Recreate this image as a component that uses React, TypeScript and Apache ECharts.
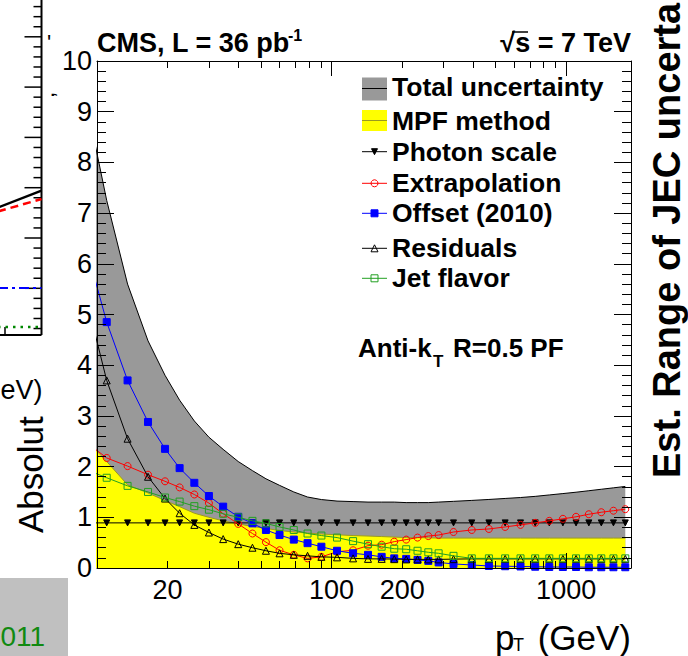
import React, { useEffect, useRef } from 'react';
import * as echarts from 'echarts';

// ---------------- data ----------------
const ptBins = [9, 11, 13.5, 16.5, 19.5, 22.5, 26, 30, 34.5, 40, 46, 52.5, 60, 69, 79, 90.5, 105.5, 123.5, 143, 163.5, 185, 208, 232.5, 258.5, 286, 331, 396, 468.5, 549.5, 639, 738, 847.5, 968.5, 1102, 1249.5, 1412, 1590.5, 1787];

const totalUncertainty = [9.2, 7.25, 5.6, 4.48, 3.8, 3.31, 2.9, 2.58, 2.34, 2.1, 1.92, 1.76, 1.63, 1.5, 1.4, 1.35, 1.32, 1.31, 1.3, 1.3, 1.3, 1.29, 1.29, 1.29, 1.3, 1.315, 1.333, 1.352, 1.372, 1.39, 1.413, 1.441, 1.468, 1.495, 1.524, 1.553, 1.581, 1.609];

const mpfMethod = [2.53, 2.1, 1.64, 1.48, 1.33, 1.21, 1.08, 1.0, 0.93, 0.87, 0.82, 0.78, 0.74, 0.71, 0.69, 0.67, 0.655, 0.64, 0.63, 0.62, 0.61, 0.6, 0.6, 0.595, 0.59, 0.59, 0.59, 0.59, 0.59, 0.59, 0.59, 0.59, 0.59, 0.59, 0.59, 0.59, 0.59, 0.59];

const photonScale = [0.89, 0.89, 0.89, 0.89, 0.89, 0.89, 0.89, 0.89, 0.89, 0.89, 0.89, 0.89, 0.89, 0.89, 0.89, 0.89, 0.89, 0.89, 0.89, 0.89, 0.89, 0.89, 0.89, 0.89, 0.89, 0.89, 0.89, 0.89, 0.89, 0.89, 0.89, 0.89, 0.89, 0.89, 0.89, 0.89, 0.89, 0.89];

const extrapolation = [2.48, 2.17, 2.01, 1.84, 1.71, 1.59, 1.45, 1.28, 1.07, 0.87, 0.68, 0.51, 0.35, 0.26, 0.19, 0.22, 0.32, 0.35, 0.44, 0.46, 0.52, 0.56, 0.6, 0.63, 0.65, 0.71, 0.75, 0.77, 0.81, 0.85, 0.89, 0.93, 0.97, 1.01, 1.06, 1.1, 1.13, 1.16];

const offset2010 = [6.32, 4.85, 3.7, 2.88, 2.35, 1.97, 1.68, 1.42, 1.21, 1.01, 0.88, 0.75, 0.65, 0.56, 0.49, 0.42, 0.34, 0.29, 0.26, 0.22, 0.19, 0.18, 0.16, 0.14, 0.11, 0.08, 0.06, 0.04, 0.035, 0.03, 0.025, 0.02, 0.02, 0.02, 0.015, 0.015, 0.015, 0.015];

const residuals = [5.31, 3.7, 2.55, 1.8, 1.37, 1.08, 0.85, 0.7, 0.57, 0.47, 0.4, 0.34, 0.29, 0.26, 0.24, 0.22, 0.21, 0.19, 0.18, 0.18, 0.175, 0.17, 0.17, 0.17, 0.17, 0.175, 0.18, 0.18, 0.18, 0.18, 0.18, 0.18, 0.18, 0.18, 0.18, 0.18, 0.18, 0.18];

const jetFlavor = [1.94, 1.78, 1.62, 1.5, 1.39, 1.31, 1.22, 1.15, 1.07, 1.0, 0.93, 0.88, 0.81, 0.75, 0.68, 0.64, 0.6, 0.53, 0.47, 0.42, 0.38, 0.37, 0.34, 0.31, 0.29, 0.24, 0.19, 0.19, 0.19, 0.19, 0.19, 0.19, 0.19, 0.19, 0.19, 0.19, 0.19, 0.19];

const xLabelValues = [20, 100, 200, 1000];
const xMajorTicks = [10, 100, 1000];
const xMinorTicks = [20, 30, 40, 50, 60, 70, 80, 90, 200, 300, 400, 500, 600, 700, 800, 900];
const X_MIN = 10;
const X_MAX = 1890;
const Y_MIN = 0;
const Y_MAX = 10;

const FONT = '"Liberation Sans", Arial, Helvetica, sans-serif';
const lg = (v: number) => Math.log10(v);
const toData = (vals: number[]) => ptBins.map((p, i) => [lg(p), vals[i]]);

type MarkerDef = {
  name: string;
  values: number[];
  color: string;
  symbol: 'circle' | 'rect' | 'triangle';
  rotate: number;
  size: number;
  filled: boolean;
};

const markerSeries: MarkerDef[] = [
  { name: 'Photon scale', values: photonScale, color: '#000000', symbol: 'triangle', rotate: 180, size: 6, filled: true },
  { name: 'Extrapolation', values: extrapolation, color: '#ff0000', symbol: 'circle', rotate: 0, size: 7, filled: false },
  { name: 'Offset (2010)', values: offset2010, color: '#0000ff', symbol: 'rect', rotate: 0, size: 7, filled: true },
  { name: 'Residuals', values: residuals, color: '#000000', symbol: 'triangle', rotate: 0, size: 7, filled: false },
  { name: 'Jet flavor', values: jetFlavor, color: '#22a022', symbol: 'rect', rotate: 0, size: 7, filled: false },
];

function markerGraphic(m: MarkerDef, cx: number, cy: number) {
  const s = m.size;
  const fill = m.filled ? m.color : 'none';
  const style = { fill, stroke: m.color, lineWidth: 1 };
  if (m.symbol === 'circle') return { type: 'circle', shape: { cx, cy, r: s / 2 }, style, z: 20 };
  if (m.symbol === 'rect') return { type: 'rect', shape: { x: cx - s / 2, y: cy - s / 2, width: s, height: s }, style, z: 20 };
  const h = s / 2;
  const pts = m.rotate === 180
    ? [[cx - h, cy - h], [cx + h, cy - h], [cx, cy + h]]
    : [[cx, cy - h], [cx + h, cy + h], [cx - h, cy + h]];
  return { type: 'polygon', shape: { points: pts }, style, z: 20 };
}

function buildGraphic() {
  const els: any[] = [];
  const txt = (text: string, x: number, y: number, size: number, opts: any = {}) => ({
    type: 'text', x, y, z: opts.z ?? 20, rotation: opts.rotation ?? 0,
    style: {
      text, fill: opts.fill ?? '#000', fontSize: size, fontFamily: FONT,
      fontWeight: opts.bold ? 'bold' : 'normal', align: opts.align ?? 'left', verticalAlign: 'middle',
      ...(opts.lineHeight ? { lineHeight: opts.lineHeight } : {}),
    },
  });

  // legend
  const LX = 362, LW = 25, TX = 392, LF = 26.5;
  els.push({ type: 'rect', shape: { x: LX, y: 77.5, width: LW, height: 23 }, style: { fill: '#999999' }, z: 20 });
  els.push({ type: 'line', shape: { x1: LX, y1: 88.5, x2: LX + LW, y2: 88.5 }, style: { stroke: '#000', lineWidth: 1 }, z: 21 });
  els.push(txt('Total uncertainty', TX, 86.7, LF, { bold: true }));
  els.push({ type: 'rect', shape: { x: LX, y: 110, width: LW, height: 21 }, style: { fill: '#ffff00' }, z: 20 });
  els.push({ type: 'line', shape: { x1: LX, y1: 120.5, x2: LX + LW, y2: 120.5 }, style: { stroke: '#9a9a20', lineWidth: 1 }, z: 21 });
  els.push(txt('MPF method', TX, 121, LF, { bold: true }));
  const rowsY = [151.7, 183.3, 213.3, 248.3, 278.3];
  markerSeries.forEach((m, i) => {
    const y = rowsY[i];
    els.push({ type: 'line', shape: { x1: LX, y1: y, x2: LX + LW, y2: y }, style: { stroke: m.color, lineWidth: 1 }, z: 20 });
    els.push(markerGraphic(m, LX + LW / 2, y));
    els.push(txt(m.name, TX, y, LF, { bold: true }));
  });

  // header texts
  els.push(txt('CMS, L = 36 pb', 97, 43.3, 27, { bold: true }));
  els.push(txt('-1', 288, 35.5, 16, { bold: true }));
  els.push(txt('\u221As = 7 TeV', 631, 43.3, 27, { bold: true, align: 'right' }));
  els.push({ type: 'line', shape: { x1: 512, y1: 32, x2: 528, y2: 32 }, style: { stroke: '#000', lineWidth: 1.5 }, z: 20 });

  // jet algorithm label
  els.push(txt('Anti-k', 358, 347.7, 26, { bold: true }));
  els.push(txt('T', 433, 361, 17, { bold: true }));
  els.push(txt('R=0.5 PF', 453, 347.7, 26, { bold: true }));

  // x axis title
  els.push(txt('p', 495, 637, 35));
  els.push(txt('T', 513, 645, 18));
  els.push(txt('(GeV)', 631, 637, 35, { align: 'right' }));

  // y axis title (partly hidden by neighbouring pad)
  els.push(txt('Absolut', 30.9, 533, 35, { rotation: Math.PI / 2, z: 10 }));

  // neighbouring pad fragment (left)
  const FX = 41.5;
  els.push({ type: 'line', shape: { x1: FX, y1: -2, x2: FX, y2: 335 }, style: { stroke: '#000', lineWidth: 2 }, z: 12 });
  els.push({ type: 'line', shape: { x1: -2, y1: 335, x2: FX, y2: 335 }, style: { stroke: '#000', lineWidth: 2 }, z: 12 });
  els.push({ type: 'line', shape: { x1: 5, y1: 327, x2: 5, y2: 335 }, style: { stroke: '#000', lineWidth: 1.5 }, z: 12 });
  for (let j = -29; j <= 4; j++) {
    const y = 288.3 + 10.06 * j;
    if (y < -2 || y > 334) continue;
    const major = j % 5 === 0;
    els.push({ type: 'line', shape: { x1: FX - (major ? 17 : 8), y1: y, x2: FX, y2: y }, style: { stroke: '#000', lineWidth: 1.5 }, z: 12 });
  }
  els.push({ type: 'line', shape: { x1: -2, y1: 207.5, x2: FX, y2: 190.6 }, style: { stroke: '#000', lineWidth: 2.5 }, z: 12 });
  els.push({ type: 'line', shape: { x1: -2, y1: 211.5, x2: FX, y2: 199 }, style: { stroke: '#ff0000', lineWidth: 2.5, lineDash: [8, 5] }, z: 12 });
  els.push({ type: 'line', shape: { x1: -2, y1: 288, x2: FX, y2: 288 }, style: { stroke: '#0000ff', lineWidth: 2, lineDash: [10, 4, 3, 4] }, z: 12 });
  els.push({ type: 'line', shape: { x1: -2, y1: 327, x2: FX, y2: 327 }, style: { stroke: '#008800', lineWidth: 2.5, lineDash: [2.5, 5] }, z: 12 });
  els.push(txt('eV)', 0.5, 390, 27, { z: 12 }));

  // small fragments of the hidden title
  els.push(txt(',', 46, 98, 22, { z: 12, rotation: Math.PI / 2 }));
  els.push(txt("'", 47, 42, 22, { z: 12 }));

  // bottom-left grey box fragment
  els.push({ type: 'rect', shape: { x: -2, y: 578, width: 70, height: 80 }, style: { fill: '#c0c0c0' }, z: 12 });
  els.push(txt('011', 0.5, 636, 28, { fill: '#118a11', z: 13 }));

  // right neighbouring axis title fragment
  els.push(txt('Est. Range of JEC uncerta', 666.5, 478, 38, { bold: true, rotation: Math.PI / 2, lineHeight: 30 }));

  return els;
}

function buildOption() {
  const xMin = lg(X_MIN);
  const xMax = lg(X_MAX);
  const axisLineStyle = { color: '#000', width: 1 };
  const xAxisBase = (position: 'bottom' | 'top', major: boolean, withLabels: boolean) => ({
    type: 'value', position, min: xMin, max: xMax, z: 10,
    axisLine: { show: major, onZero: false, lineStyle: axisLineStyle },
    axisTick: { show: true, inside: true, length: major ? 15 : 7, customValues: (major ? xMajorTicks : xMinorTicks).map(lg), lineStyle: { color: '#000', width: 1 } },
    axisLabel: withLabels
      ? { show: true, customValues: xLabelValues.map(lg), formatter: (v: number) => String(Math.round(Math.pow(10, v))), margin: 8, fontSize: 27, fontFamily: FONT, color: '#000' }
      : { show: false },
    splitLine: { show: false },
  });
  const yAxisBase = (position: 'left' | 'right', withLabels: boolean) => ({
    type: 'value', position, min: Y_MIN, max: Y_MAX, interval: 1, z: 10,
    axisLine: { show: true, onZero: false, lineStyle: axisLineStyle },
    axisTick: { show: true, inside: true, length: 17, lineStyle: { color: '#000', width: 1 } },
    minorTick: { show: true, splitNumber: 5, length: 9, lineStyle: { color: '#000', width: 1 } },
    axisLabel: withLabels ? { show: true, margin: 5, fontSize: 27, fontFamily: FONT, color: '#000' } : { show: false },
    splitLine: { show: false },
    minorSplitLine: { show: false },
  });

  const series: any[] = [
    {
      type: 'line', name: 'Total uncertainty', data: toData(totalUncertainty), symbol: 'none', z: 1,
      lineStyle: { color: '#000', width: 1 }, areaStyle: { color: '#999999', opacity: 1, origin: 'start' },
      itemStyle: { color: '#999999' }, silent: true,
    },
    {
      type: 'line', name: 'MPF method', data: toData(mpfMethod), symbol: 'none', z: 2,
      lineStyle: { color: '#9a9a20', width: 1 }, areaStyle: { color: '#ffff00', opacity: 1, origin: 'start' },
      itemStyle: { color: '#ffff00' }, silent: true,
    },
    ...markerSeries.map((m, i) => ({
      type: 'line', name: m.name, data: toData(m.values), z: 3 + i,
      symbol: m.symbol, symbolSize: m.size, symbolRotate: m.rotate, showSymbol: true, showAllSymbol: true,
      lineStyle: { color: m.color, width: 1 },
      itemStyle: { color: m.filled ? m.color : 'rgba(255,255,255,0)', borderColor: m.color, borderWidth: 1 },
      silent: true,
    })),
  ];

  return {
    animation: false,
    backgroundColor: '#ffffff',
    grid: { left: 97, right: 57, top: 61, bottom: 88, containLabel: false },
    xAxis: [
      xAxisBase('bottom', true, true),
      xAxisBase('bottom', false, false),
      xAxisBase('top', true, false),
      xAxisBase('top', false, false),
    ],
    yAxis: [yAxisBase('left', true), yAxisBase('right', false)],
    series,
    graphic: { elements: buildGraphic() },
  };
}

export default function App() {
  const ref = useRef<HTMLDivElement>(null);
  useEffect(() => {
    if (!ref.current) return;
    const chart = echarts.init(ref.current, null, { renderer: 'svg' });
    chart.setOption(buildOption() as any);
    return () => chart.dispose();
  }, []);
  return (
    <div
      ref={ref}
      style={{ position: 'fixed', left: 0, top: 0, width: 688, height: 656, background: '#ffffff' }}
    />
  );
}
